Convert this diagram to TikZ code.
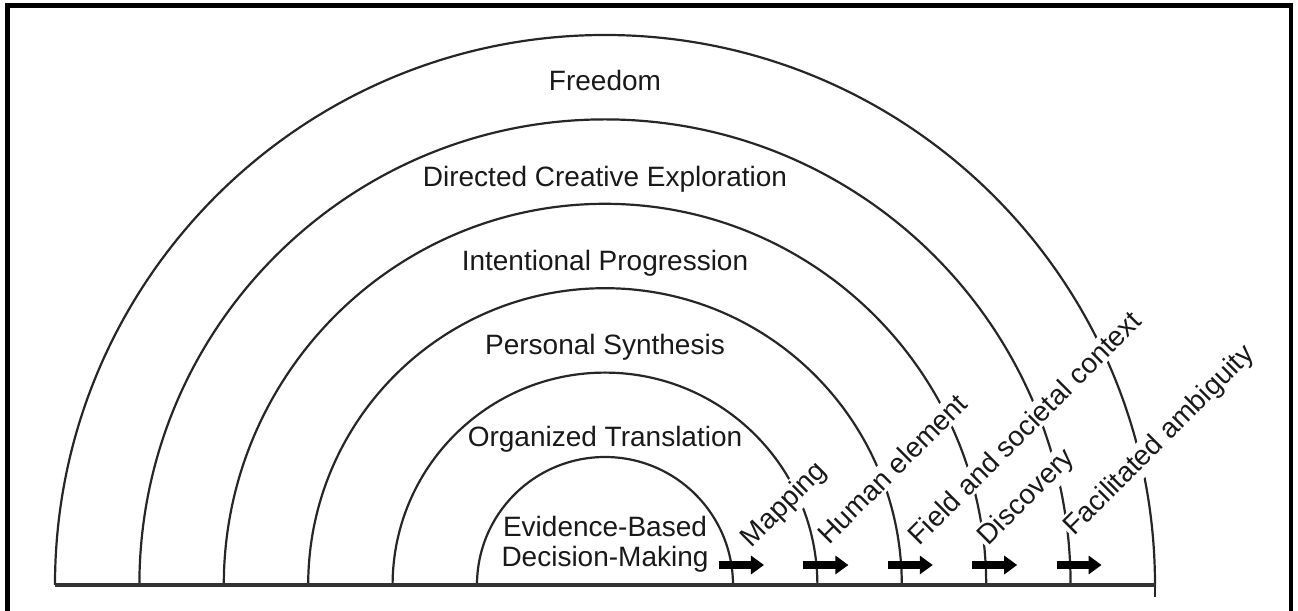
\documentclass[tikz,border=0pt]{standalone}
\usepackage{fontspec}
\setmainfont{Liberation Sans}
\usepackage{tikz}
\usetikzlibrary{arrows.meta}
\tikzstyle{rainbow} = [x = .5pt, y = .5pt]
\tikzstyle{frameLine} = [color=black, line width=2.2pt]
\tikzstyle{ringLine} = [color=black!85, line width=1.1pt]
\tikzstyle{baseLine} = [color=black!80, line width=1.6pt]
\tikzstyle{ringText} = [font=\fontsize{14}{15}\selectfont, align=center, inner sep=0pt, text=black!90]
\tikzstyle{tagText} = [font=\fontsize{14}{15}\selectfont, fill=white, rotate=45, anchor=base west, inner sep=1pt, text=black!90]
\tikzstyle{fatArrow} = [line width=4pt, -{Triangle[length=6.5pt, width=9pt]}]
\newcommand{\ringArc}[1]{\draw [ringLine] (#1, 0) arc (0:180:#1);}

\begin{document}
\begin{tikzpicture}[rainbow]
  \useasboundingbox (-605, -26) rectangle (693, 585);
  \draw [frameLine] (-597.5, -60) rectangle (686, 579.5);

  % the six rings
  \foreach \k in {0,...,5} {
    \pgfmathsetmacro{\radius}{128 + 84.4 * \k}
    \ringArc{\radius}
    \coordinate (foot\k) at (\radius, 0);
  }
  \draw [ringLine] (foot5) -- +(0, -12);
  \draw [baseLine] (-550, 0) -- (foot5);

  \node [ringText] (freedom) at (0, 505) {Freedom};
  \node [ringText] (directed) at (0, 406) {Directed Creative Exploration};
  \node [ringText] (intentional) at (0, 322) {Intentional Progression};
  \node [ringText] (personal) at (0, 238) {Personal Synthesis};
  \node [ringText] (organized) at (0, 146) {Organized Translation};
  \node [ringText] (evidence) at (0, 41) {Evidence-Based\\Decision-Making};

  % slanted tags, cut the rings
  \foreach \x/\y/\name/\tag in {145/35/mapping/Mapping, 223/38/human/Human element,
      313/37/field/Field and societal context, 382/37/discovery/Discovery,
      468/47/ambiguity/Facilitated ambiguity} {
    \node [tagText] (\name) at (\x, \y) {\tag};
  }

  \foreach \k in {0,...,4} {
    \pgfmathsetmacro{\radius}{128 + 84.4 * \k}
    \coordinate (tail\k) at (\radius - 14, 20);
    \coordinate (head\k) at (\radius + 31, 20);
    \draw [fatArrow] (tail\k) -- (head\k);
  }
\end{tikzpicture}
\end{document}
